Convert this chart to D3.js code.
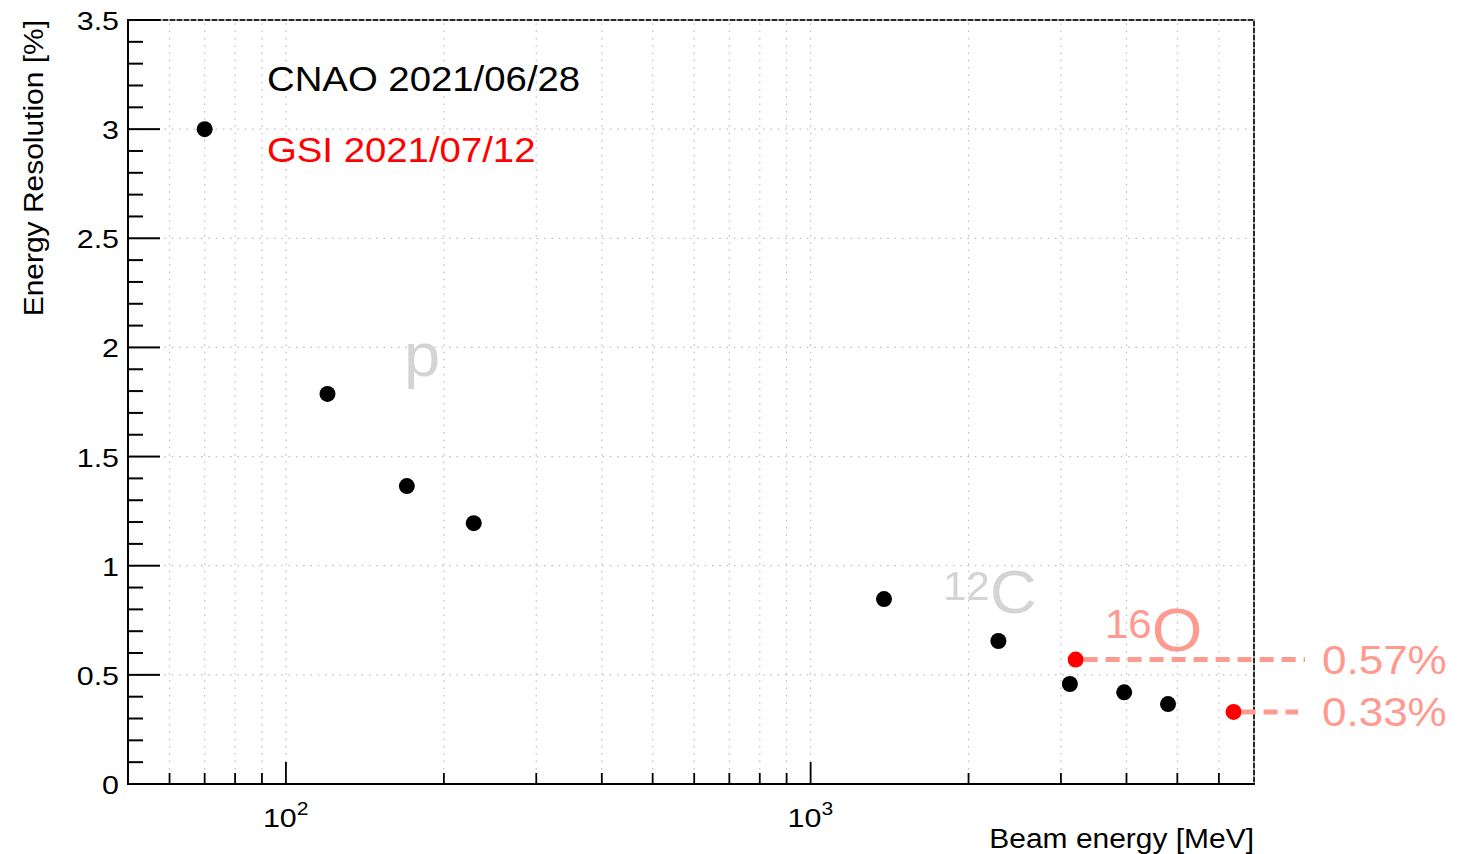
<!DOCTYPE html>
<html>
<head>
<meta charset="utf-8">
<script src="https://cdn.jsdelivr.net/npm/d3@7"></script>
<style>
  body { margin: 0; background: #fff; }
  svg { font-family: "Liberation Sans", Arial, sans-serif; }
</style>
</head>
<body>
<div id="chart"></div>
<script>
// beam energy [MeV] and resolution [%]
const cnaoEnergy = [70, 120, 170, 228, 1380, 2280, 3120, 3960, 4800];
const cnaoRes = [3.0, 1.787, 1.365, 1.195, 0.847, 0.655, 0.458, 0.42, 0.366];
const gsiEnergy = [3200, 6400];
const gsiRes = [0.57, 0.33];
const gsiLabels = ['0.57%', '0.33%'];
const yTicks = [0, 0.5, 1, 1.5, 2, 2.5, 3, 3.5];

const width = 1461;
const height = 854;
const margin = { left: 128, right: 207, top: 20, bottom: 70 };

const svg = d3.select('#chart').append('svg')
  .attr('width', width)
  .attr('height', height);

const x = d3.scaleLog()
  .domain([50, 7000])
  .range([margin.left, width - margin.right]);
const y = d3.scaleLinear()
  .domain([0, 3.5])
  .range([height - margin.bottom, margin.top]);

const x0 = x.range()[0], x1 = x.range()[1];
const y0 = y.range()[0], y1 = y.range()[1];

// the reference font is a bit wider than Liberation Sans, so stretch it
const place = (px, py, sx, rot) =>
  `translate(${px},${py})` + (rot ? ` rotate(${rot})` : '') + ` scale(${sx},1)`;

// log tick positions inside domain
const logTicks = [];
for (let dec = 10; dec <= 1000; dec *= 10) {
  for (let k = 1; k <= 9; k++) {
    const v = k * dec;
    if (v > 50 && v < 7000) logTicks.push({ v, major: k === 1 });
  }
}

const grid = svg.append('g')
  .attr('stroke', '#bdbdbd')
  .attr('stroke-width', 1.2)
  .attr('stroke-dasharray', '1.5,5.8');

grid.selectAll('line.vx')
  .data(logTicks)
  .enter().append('line')
  .attr('x1', d => x(d.v)).attr('x2', d => x(d.v))
  .attr('y1', y0).attr('y2', y1);

grid.selectAll('line.hy')
  .data(yTicks.slice(1, -1))
  .enter().append('line')
  .attr('x1', x0).attr('x2', x1)
  .attr('y1', d => y(d)).attr('y2', d => y(d));

// frame: top and right look dashed in the reference
svg.append('path')
  .attr('d', `M${x0},${y1}H${x1}V${y0}`)
  .attr('fill', 'none')
  .attr('stroke', '#888')
  .attr('stroke-width', 1.5);
svg.append('path')
  .attr('d', `M${x0},${y1}H${x1}V${y0}`)
  .attr('fill', 'none')
  .attr('stroke', '#000')
  .attr('stroke-width', 1.5)
  .attr('stroke-dasharray', '5,2');

// axes lines
const axes = svg.append('g').attr('stroke', '#000').attr('stroke-width', 2);
axes.append('line').attr('x1', x0).attr('x2', x0).attr('y1', y1 - 1).attr('y2', y0 + 1);
axes.append('line').attr('x1', x0 - 1).attr('x2', x1 + 1).attr('y1', y0).attr('y2', y0);

// y ticks, major every 0.5, minor every 0.1
const yMinor = d3.range(0, 36).map(i => i / 10);
axes.selectAll('line.ym')
  .data(yMinor)
  .enter().append('line')
  .attr('x1', x0)
  .attr('x2', (d, i) => x0 + (i % 5 === 0 ? 32 : 15))
  .attr('y1', d => y(d)).attr('y2', d => y(d));

// x ticks
axes.selectAll('line.xm')
  .data(logTicks)
  .enter().append('line')
  .attr('stroke-width', 1.8)
  .attr('x1', d => x(d.v)).attr('x2', d => x(d.v))
  .attr('y1', y0)
  .attr('y2', d => y0 - (d.major ? 22 : 11));

// y tick labels
svg.append('g').selectAll('text')
  .data(yTicks)
  .enter().append('text')
  .attr('transform', d => place(x0 - 9, y(d) + 10, 1.17))
  .attr('text-anchor', 'end')
  .attr('font-size', 26)
  .text(d => d);

// x tick labels 10^n
const xLab = svg.append('g').selectAll('text')
  .data([100, 1000])
  .enter().append('text')
  .attr('transform', d => place(x(d) - 23, y0 + 43, 1.17))
  .attr('font-size', 26);
xLab.append('tspan').text('10');
xLab.append('tspan')
  .attr('font-size', 18)
  .attr('dy', -12)
  .text(d => Math.round(Math.log10(d)));

// axis titles
svg.append('text')
  .attr('transform', place(43, y1, 1.07, -90))
  .attr('text-anchor', 'end')
  .attr('font-size', 28)
  .text('Energy Resolution [%]');
svg.append('text')
  .attr('transform', place(x1, 848, 1.07))
  .attr('text-anchor', 'end')
  .attr('font-size', 28)
  .text('Beam energy [MeV]');

// legend-ish labels
svg.append('text')
  .attr('transform', place(267, 91, 1.065))
  .attr('font-size', 36)
  .attr('fill', '#000')
  .text('CNAO 2021/06/28');
svg.append('text')
  .attr('transform', place(267, 162, 1.065))
  .attr('font-size', 36)
  .attr('fill', '#ff0000')
  .text('GSI 2021/07/12');

// ion labels
const lightGrey = '#d4d4d4';
const salmon = '#ff9a90';
svg.append('text')
  .attr('transform', place(404, 376, 1.05))
  .attr('font-size', 62)
  .attr('fill', lightGrey)
  .text('p');
const cLab = svg.append('text')
  .attr('transform', place(943, 613, 1.05))
  .attr('fill', lightGrey);
cLab.append('tspan').attr('font-size', 40).attr('dy', -13).text('12');
cLab.append('tspan').attr('font-size', 62).attr('dy', 13).text('C');
const oLab = svg.append('text')
  .attr('transform', place(1105, 651, 1.05))
  .attr('fill', salmon);
oLab.append('tspan').attr('font-size', 40).attr('dy', -13).text('16');
oLab.append('tspan').attr('font-size', 62).attr('dy', 13).text('O');

// dashed guide lines to the GSI values
const guideEnd = [1305, 1298];
svg.append('g').selectAll('line')
  .data(gsiEnergy)
  .enter().append('line')
  .attr('x1', d => x(d) + 8)
  .attr('x2', (d, i) => guideEnd[i])
  .attr('y1', (d, i) => y(gsiRes[i]))
  .attr('y2', (d, i) => y(gsiRes[i]))
  .attr('stroke', salmon)
  .attr('stroke-width', 5)
  .attr('stroke-dasharray', '14,8');

svg.append('g').selectAll('text')
  .data(gsiLabels)
  .enter().append('text')
  .attr('transform', (d, i) => place(1322, y(gsiRes[i]) + 14, 1.1))
  .attr('font-size', 40)
  .attr('fill', salmon)
  .text(d => d);

// markers
svg.append('g').selectAll('circle')
  .data(cnaoEnergy)
  .enter().append('circle')
  .attr('cx', d => x(d))
  .attr('cy', (d, i) => y(cnaoRes[i]))
  .attr('r', 8)
  .attr('fill', '#000');

svg.append('g').selectAll('circle')
  .data(gsiEnergy)
  .enter().append('circle')
  .attr('cx', d => x(d))
  .attr('cy', (d, i) => y(gsiRes[i]))
  .attr('r', 8)
  .attr('fill', '#ff0000');
</script>
</body>
</html>
